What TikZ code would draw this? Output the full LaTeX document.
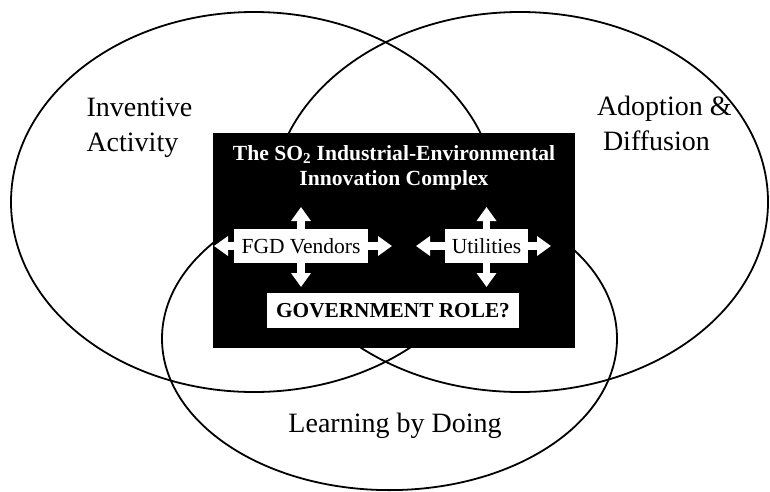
\documentclass[tikz,border=0pt]{standalone}
\usepackage{fontspec}
\setmainfont{Liberation Serif}
\usetikzlibrary{shapes.geometric,arrows.meta}
\tikzset{
  venn/.style={draw=black, line width=1.8pt, ellipse, inner sep=0pt, outer sep=0pt},
  lbl/.style={font=\fontsize{28}{35}\selectfont, inner sep=0pt, outer sep=0pt},
  wbox/.style={fill=white, inner sep=0pt, outer sep=0pt, font=\fontsize{21.5}{25}\selectfont},
  warrow/.style={draw=white, line width=7.5pt, -{Triangle[length=14pt 0 0, width=19pt 0 0]}}
}
\begin{document}
\begin{tikzpicture}[x=1pt,y=-1pt]
\useasboundingbox (0,0) rectangle (770,491);
% ellipses
\node[venn, minimum width=486pt, minimum height=380pt] (inv) at (254,202) {};
\node[venn, minimum width=496pt, minimum height=380pt] (adp) at (520,202) {};
\node[venn, minimum width=455pt, minimum height=303pt] (lbd) at (389.5,338.6) {};
% labels
\node[lbl, align=left, anchor=north west] (invl) at (86.5,97.5) {Inventive\\Activity};
\node[lbl, align=left, anchor=north west] (adpl) at (597,96) {Adoption \&\\\hspace*{6pt}Diffusion};
\node[lbl, anchor=base] (lbdl) at (395,432) {Learning by Doing};
% black box
\node[fill=black, minimum width=362pt, minimum height=215pt, inner sep=0pt, outer sep=0pt] (cplx) at (394,240.5) {};
\node[text=white, font=\bfseries\fontsize{21.6}{25}\selectfont, align=center, anchor=north, inner sep=0pt] (title) at (394,145.4)
  {The SO\textsubscript{2} Industrial-Environmental\\Innovation Complex};
% white boxes
\node[wbox, minimum width=134pt, minimum height=34pt] (fgd) at (301,246) {FGD Vendors};
\node[wbox, minimum width=83pt, minimum height=34pt] (utl) at (486.5,246) {Utilities};
\node[wbox, minimum width=252.6pt, minimum height=35pt, font=\bfseries\fontsize{21.3}{25}\selectfont] (gov) at (393,310.5) {GOVERNMENT ROLE?};
% arrow tips
\coordinate (fU) at (301,207);
\coordinate (fD) at (301,287);
\coordinate (fL) at (214,246);
\coordinate (fR) at (392,246);
\coordinate (uU) at (486.5,207);
\coordinate (uD) at (486.5,287);
\coordinate (uL) at (416,246);
\coordinate (uR) at (551,246);
\draw[warrow] (fgd.north) -- (fU);
\draw[warrow] (fgd.south) -- (fD);
\draw[warrow] (fgd.west) -- (fL);
\draw[warrow] (fgd.east) -- (fR);
\draw[warrow] (utl.north) -- (uU);
\draw[warrow] (utl.south) -- (uD);
\draw[warrow] (utl.west) -- (uL);
\draw[warrow] (utl.east) -- (uR);
\end{tikzpicture}
\end{document}
